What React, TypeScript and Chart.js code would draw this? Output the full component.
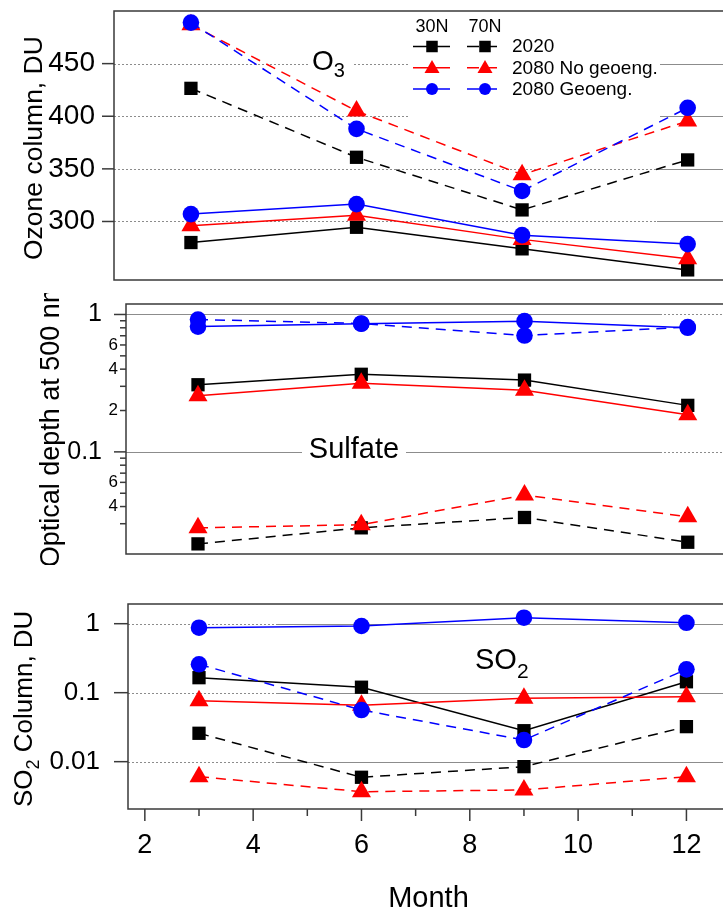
import React, { useEffect, useRef } from 'react';
import { Chart, registerables } from 'chart.js';

Chart.register(...registerables);

const FONT = '"Liberation Sans", Arial, Helvetica, sans-serif';
Chart.defaults.font.family = FONT;
Chart.defaults.color = '#000';

// ---------- data ----------
const months = [3, 6, 9, 12];

// Ozone column, DU
const o3_2020_30N = [280, 294.5, 274, 254];
const o3_2020_70N = [426.5, 361, 311, 358.5];
const o3_noGeo_30N = [296, 306, 283, 264.5];
const o3_noGeo_70N = [487, 405, 344.5, 395.5];
const o3_geo_30N = [307, 316.5, 287, 278.5];
const o3_geo_70N = [489, 388, 329, 408];

// Sulfate optical depth at 500 nm
const aod_2020_30N = [0.308, 0.367, 0.333, 0.218];
const aod_2020_70N = [0.0214, 0.028, 0.0333, 0.022];
const aod_noGeo_30N = [0.256, 0.316, 0.281, 0.186];
const aod_noGeo_70N = [0.028, 0.0295, 0.0485, 0.0337];
const aod_geo_30N = [0.816, 0.856, 0.894, 0.8];
const aod_geo_70N = [0.919, 0.86, 0.703, 0.81];

// SO2 column, DU
const so2_2020_30N = [0.165, 0.12, 0.0281, 0.144];
const so2_2020_70N = [0.0258, 0.00594, 0.00847, 0.0322];
const so2_noGeo_30N = [0.0766, 0.066, 0.083, 0.0875];
const so2_noGeo_70N = [0.00606, 0.00367, 0.00389, 0.00606];
const so2_geo_30N = [0.875, 0.926, 1.22, 1.03];
const so2_geo_70N = [0.258, 0.056, 0.0206, 0.218];

// ticks / labels
const o3Ticks = [300, 350, 400, 450];
const aodMajorTicks = [1, 0.1];
const aodMinorTicks = [0.9, 0.8, 0.7, 0.6, 0.5, 0.4, 0.3, 0.2, 0.09, 0.08, 0.07, 0.06, 0.05, 0.04, 0.03];
const aodMinorLabeled = [0.6, 0.4, 0.2, 0.06, 0.04];
const aodMinorLabelText = ['6', '4', '2', '6', '4'];
const so2Ticks = [0.01, 0.1, 1];
const so2TickLabels = ['0.01', '0.1', '1'];
const monthTicks = [2, 3, 4, 5, 6, 7, 8, 9, 10, 11, 12];
const monthLabeled = [2, 4, 6, 8, 10, 12];

const scenarioNames = ['2020', '2080 No geoeng.', '2080 Geoeng.'];
const latNames = ['30N', '70N'];

// ---------- styles ----------
const AXIS = '#3a3a3a';
const GRID = '#8c8c8c';
const BLACK = '#000000';
const RED = '#ff0000';
const BLUE = '#0000ff';

function ds(label: string, values: number[], color: string, style: string, r: number, dashed: boolean) {
  return {
    label,
    data: months.map((m, i) => ({ x: m, y: values[i] })),
    borderColor: color,
    backgroundColor: color,
    borderWidth: 1.5,
    borderDash: dashed ? [10, 7] : [],
    pointStyle: style,
    pointRadius: r,
    pointHoverRadius: r,
    pointBackgroundColor: color,
    pointBorderColor: color,
    pointBorderWidth: 0,
    tension: 0,
    clip: false,
  };
}

function datasets(c30: number[], c70: number[], n30: number[], n70: number[], g30: number[], g70: number[]) {
  // blue first so it is drawn on top, then red, then black
  return [
    ds(scenarioNames[2] + ' ' + latNames[0], g30, BLUE, 'circle', 8.3, false),
    ds(scenarioNames[2] + ' ' + latNames[1], g70, BLUE, 'circle', 8.3, true),
    ds(scenarioNames[1] + ' ' + latNames[0], n30, RED, 'triangle', 11, false),
    ds(scenarioNames[1] + ' ' + latNames[1], n70, RED, 'triangle', 11, true),
    ds(scenarioNames[0] + ' ' + latNames[0], c30, BLACK, 'rect', 9.4, false),
    ds(scenarioNames[0] + ' ' + latNames[1], c70, BLACK, 'rect', 9.4, true),
  ];
}

function seg(ctx: CanvasRenderingContext2D, x1: number, x2: number, y: number, dotted: boolean) {
  if (x2 <= x1) return;
  ctx.beginPath();
  ctx.strokeStyle = GRID;
  ctx.lineWidth = 1;
  ctx.setLineDash(dotted ? [2, 2] : []);
  ctx.moveTo(x1, y);
  ctx.lineTo(x2, y);
  ctx.stroke();
  ctx.setLineDash([]);
}

function marker(ctx: CanvasRenderingContext2D, style: string, x: number, y: number, s: number, color: string) {
  ctx.fillStyle = color;
  ctx.beginPath();
  if (style === 'rect') ctx.rect(x - s / 2, y - s / 2, s, s);
  else if (style === 'triangle') {
    const h = s * 0.87;
    ctx.moveTo(x, y - h * 0.6);
    ctx.lineTo(x + s / 2, y + h * 0.4);
    ctx.lineTo(x - s / 2, y + h * 0.4);
    ctx.closePath();
  } else ctx.arc(x, y, s / 2, 0, Math.PI * 2);
  ctx.fill();
}

function parts(ctx: CanvasRenderingContext2D, items: [string, number, number][], x: number, y: number) {
  let cx = x;
  for (const [t, size, dy] of items) {
    ctx.font = `${size}px ${FONT}`;
    ctx.fillText(t, cx, y + dy);
    cx += ctx.measureText(t).width;
  }
}

type DecoCfg = {
  name: string;
  gridValues: number[];
  splitX: number;
  leftDotted: boolean;
  yTicks: { v: number; len: number }[];
  xTicks?: { v: number; len: number }[];
  boxes?: [number, number, number, number][];
  after?: (ctx: CanvasRenderingContext2D, chart: any) => void;
};

function makeDeco(cfg: DecoCfg) {
  return {
    id: 'deco_' + cfg.name,
    beforeDatasetsDraw(chart: any) {
      const { ctx, chartArea: a, scales } = chart;
      const ys = scales.y;
      const xs = scales.x;
      ctx.save();
      for (const v of cfg.gridValues) {
        const py = Math.round(ys.getPixelForValue(v)) + 0.5;
        seg(ctx, a.left, cfg.splitX, py, cfg.leftDotted);
        seg(ctx, cfg.splitX, a.right, py, !cfg.leftDotted);
      }
      ctx.fillStyle = '#fff';
      for (const b of cfg.boxes || []) ctx.fillRect(b[0], b[1], b[2], b[3]);
      ctx.strokeStyle = AXIS;
      ctx.lineWidth = 1.5;
      ctx.setLineDash([]);
      for (const t of cfg.yTicks) {
        const py = ys.getPixelForValue(t.v);
        ctx.beginPath();
        ctx.moveTo(a.left - t.len, py);
        ctx.lineTo(a.left, py);
        ctx.stroke();
      }
      for (const t of cfg.xTicks || []) {
        const px = xs.getPixelForValue(t.v);
        ctx.beginPath();
        ctx.moveTo(px, a.bottom);
        ctx.lineTo(px, a.bottom + t.len);
        ctx.stroke();
      }
      ctx.strokeRect(a.left, a.top, a.right - a.left, a.bottom - a.top);
      ctx.restore();
    },
    afterDatasetsDraw(chart: any) {
      if (!cfg.after) return;
      const ctx = chart.ctx;
      ctx.save();
      ctx.fillStyle = '#000';
      cfg.after(ctx, chart);
      ctx.restore();
    },
  };
}

function fixY(width: number) {
  return (s: any) => {
    s.width = width;
    s.paddingTop = 0;
    s.paddingBottom = 0;
  };
}

function baseOptions(padding: any) {
  return {
    responsive: false,
    maintainAspectRatio: false,
    animation: false,
    devicePixelRatio: 1,
    events: [],
    layout: { padding },
    plugins: { legend: { display: false }, tooltip: { enabled: false } },
  };
}

// ---------- panel 1: O3 ----------
function buildO3(): any {
  const deco = makeDeco({
    name: 'o3',
    gridValues: o3Ticks,
    splitX: 657,
    leftDotted: true,
    yTicks: o3Ticks.map((v) => ({ v, len: 12 })),
    boxes: [
      [408, 12, 252, 109],
      [308, 45, 46, 36],
    ],
    after: (ctx) => {
      // y title
      ctx.save();
      ctx.translate(41.5, 260);
      ctx.rotate(-Math.PI / 2);
      ctx.textAlign = 'left';
      ctx.textBaseline = 'alphabetic';
      ctx.font = `26.5px ${FONT}`;
      ctx.fillText('Ozone column, DU', 0, 0);
      ctx.restore();
      // O3 label
      ctx.textBaseline = 'alphabetic';
      ctx.textAlign = 'left';
      parts(ctx, [['O', 28, 0], ['3', 20, 7]], 312, 70);
      // legend
      ctx.font = `18px ${FONT}`;
      ctx.textAlign = 'center';
      ctx.fillText(latNames[0], 432, 31.5);
      ctx.fillText(latNames[1], 485, 31.5);
      const rowY = [46.5, 67.8, 89];
      const cols = [BLACK, RED, BLUE];
      const styles = ['rect', 'triangle', 'circle'];
      const sizes = [11.5, 15, 12];
      for (let i = 0; i < 3; i++) {
        const y = rowY[i];
        ctx.strokeStyle = cols[i];
        ctx.lineWidth = 1.5;
        ctx.setLineDash([]);
        ctx.beginPath();
        ctx.moveTo(413, y);
        ctx.lineTo(450, y);
        ctx.stroke();
        marker(ctx, styles[i], 432, y, sizes[i], cols[i]);
        ctx.setLineDash([12, 6]);
        ctx.beginPath();
        ctx.moveTo(467, y);
        ctx.lineTo(497, y);
        ctx.stroke();
        ctx.setLineDash([]);
        marker(ctx, styles[i], 485, y, sizes[i], cols[i]);
        ctx.fillStyle = '#000';
        ctx.font = `19px ${FONT}`;
        ctx.textAlign = 'left';
        ctx.textBaseline = 'middle';
        ctx.fillText(scenarioNames[i], 512, y + 0.5);
      }
    },
  });
  return {
    type: 'line',
    data: { datasets: datasets(o3_2020_30N, o3_2020_70N, o3_noGeo_30N, o3_noGeo_70N, o3_geo_30N, o3_geo_70N) },
    options: {
      ...baseOptions({ top: 9, right: 5, bottom: 6, left: 0 }),
      scales: {
        x: { type: 'linear', display: false, min: 1.606, max: 12.749, bounds: 'data' },
        y: {
          type: 'linear',
          min: 244.4,
          max: 500,
          bounds: 'data',
          afterFit: fixY(114),
          afterBuildTicks: (s: any) => {
            s.ticks = o3Ticks.map((v) => ({ value: v }));
          },
          grid: { display: false, drawTicks: false },
          border: { display: false },
          ticks: { autoSkip: false, padding: 19, font: { size: 28 }, color: '#000', callback: (v: any) => String(v) },
        },
      },
    },
    plugins: [deco],
  };
}

// ---------- panel 2: Sulfate AOD ----------
function buildAod(): any {
  const deco = makeDeco({
    name: 'aod',
    gridValues: aodMajorTicks,
    splitX: 660,
    leftDotted: false,
    yTicks: [...aodMajorTicks.map((v) => ({ v, len: 12 })), ...aodMinorTicks.map((v) => ({ v, len: 6 }))],
    boxes: [[302, 140, 104, 30]],
    after: (ctx, chart) => {
      const a = chart.chartArea;
      const ys = chart.scales.y;
      ctx.font = `17px ${FONT}`;
      ctx.textAlign = 'right';
      ctx.textBaseline = 'middle';
      aodMinorLabeled.forEach((v, i) => {
        ctx.fillText(aodMinorLabelText[i], a.left - 8, ys.getPixelForValue(v));
      });
      // title
      ctx.save();
      ctx.translate(58.5, 274.3);
      ctx.rotate(-Math.PI / 2);
      ctx.textAlign = 'left';
      ctx.textBaseline = 'alphabetic';
      ctx.font = `27px ${FONT}`;
      ctx.fillText('Optical depth at 500 nm', 0, 0);
      ctx.restore();
      // Sulfate label
      ctx.font = `29px ${FONT}`;
      ctx.textAlign = 'center';
      ctx.textBaseline = 'alphabetic';
      ctx.fillText('Sulfate', 354, 165);
    },
  });
  const allTicks = [...aodMajorTicks, ...aodMinorTicks];
  return {
    type: 'line',
    data: { datasets: datasets(aod_2020_30N, aod_2020_70N, aod_noGeo_30N, aod_noGeo_70N, aod_geo_30N, aod_geo_70N) },
    options: {
      ...baseOptions({ top: 4, right: 5, bottom: 6, left: 0 }),
      scales: {
        x: { type: 'linear', display: false, min: 1.677, max: 12.758, bounds: 'data' },
        y: {
          type: 'logarithmic',
          min: 0.01806,
          max: 1.192,
          bounds: 'data',
          afterFit: fixY(126),
          afterBuildTicks: (s: any) => {
            s.ticks = allTicks.map((v) => ({ value: v }));
          },
          grid: { display: false, drawTicks: false },
          border: { display: false },
          ticks: {
            autoSkip: false,
            padding: 24,
            font: { size: 25 },
            color: '#000',
            callback: (v: any) => (v === 1 ? '1' : v === 0.1 ? '0.1' : ''),
          },
        },
      },
    },
    plugins: [deco],
  };
}

// ---------- panel 3: SO2 ----------
function buildSo2(): any {
  const deco = makeDeco({
    name: 'so2',
    gridValues: so2Ticks,
    splitX: 278,
    leftDotted: true,
    yTicks: so2Ticks.map((v) => ({ v, len: 14 })),
    xTicks: monthTicks.map((v) => ({ v, len: monthLabeled.includes(v) ? 12 : 7 })),
    after: (ctx) => {
      ctx.save();
      ctx.translate(32, 237);
      ctx.rotate(-Math.PI / 2);
      ctx.textAlign = 'left';
      ctx.textBaseline = 'alphabetic';
      parts(ctx, [['SO', 26, 0], ['2', 18, 7], [' Column, DU', 26, 0]], 0, 0);
      ctx.restore();
      ctx.textAlign = 'left';
      ctx.textBaseline = 'alphabetic';
      parts(ctx, [['SO', 29, 0], ['2', 21, 9]], 475, 99);
    },
  });
  return {
    type: 'line',
    data: { datasets: datasets(so2_2020_30N, so2_2020_70N, so2_noGeo_30N, so2_noGeo_70N, so2_geo_30N, so2_geo_70N) },
    options: {
      ...baseOptions({ top: 34, right: 5, bottom: 0, left: 0 }),
      scales: {
        x: {
          type: 'linear',
          min: 1.689,
          max: 12.786,
          bounds: 'data',
          afterFit: (s: any) => {
            s.height = 104;
            s.paddingLeft = 0;
            s.paddingRight = 0;
          },
          afterBuildTicks: (s: any) => {
            s.ticks = monthTicks.map((v) => ({ value: v }));
          },
          grid: { display: false, drawTicks: false },
          border: { display: false },
          ticks: {
            autoSkip: false,
            maxRotation: 0,
            minRotation: 0,
            padding: 20,
            font: { size: 27 },
            color: '#000',
            callback: (v: any) => (monthLabeled.includes(v) ? String(v) : ''),
          },
          title: { display: true, text: 'Month', font: { size: 29, lineHeight: 1 }, padding: 0, color: '#000' },
        },
        y: {
          type: 'logarithmic',
          min: 0.00206,
          max: 1.93,
          bounds: 'data',
          afterFit: fixY(128),
          afterBuildTicks: (s: any) => {
            s.ticks = so2Ticks.map((v) => ({ value: v }));
          },
          grid: { display: false, drawTicks: false },
          border: { display: false },
          ticks: {
            autoSkip: false,
            padding: 28,
            font: { size: 26 },
            color: '#000',
            callback: (v: any) => {
              const i = so2Ticks.indexOf(v);
              return i >= 0 ? so2TickLabels[i] : '';
            },
          },
        },
      },
    },
    plugins: [deco],
  };
}

function Panel({ top, width, height, build }: { top: number; width: number; height: number; build: () => any }) {
  const ref = useRef<HTMLCanvasElement>(null);
  useEffect(() => {
    const chart = new Chart(ref.current as HTMLCanvasElement, build());
    return () => chart.destroy();
  }, []);
  return (
    <canvas
      ref={ref}
      width={width}
      height={height}
      style={{ position: 'absolute', left: 0, top, width, height, display: 'block' }}
    />
  );
}

export default function App() {
  return (
    <div
      style={{
        position: 'fixed',
        left: 0,
        top: 0,
        width: 723,
        height: 913,
        overflow: 'hidden',
        background: '#fff',
      }}
    >
      <Panel top={0} width={740} height={291} build={buildO3} />
      <Panel top={293} width={740} height={272} build={buildAod} />
      <Panel top={570} width={740} height={343} build={buildSo2} />
    </div>
  );
}
